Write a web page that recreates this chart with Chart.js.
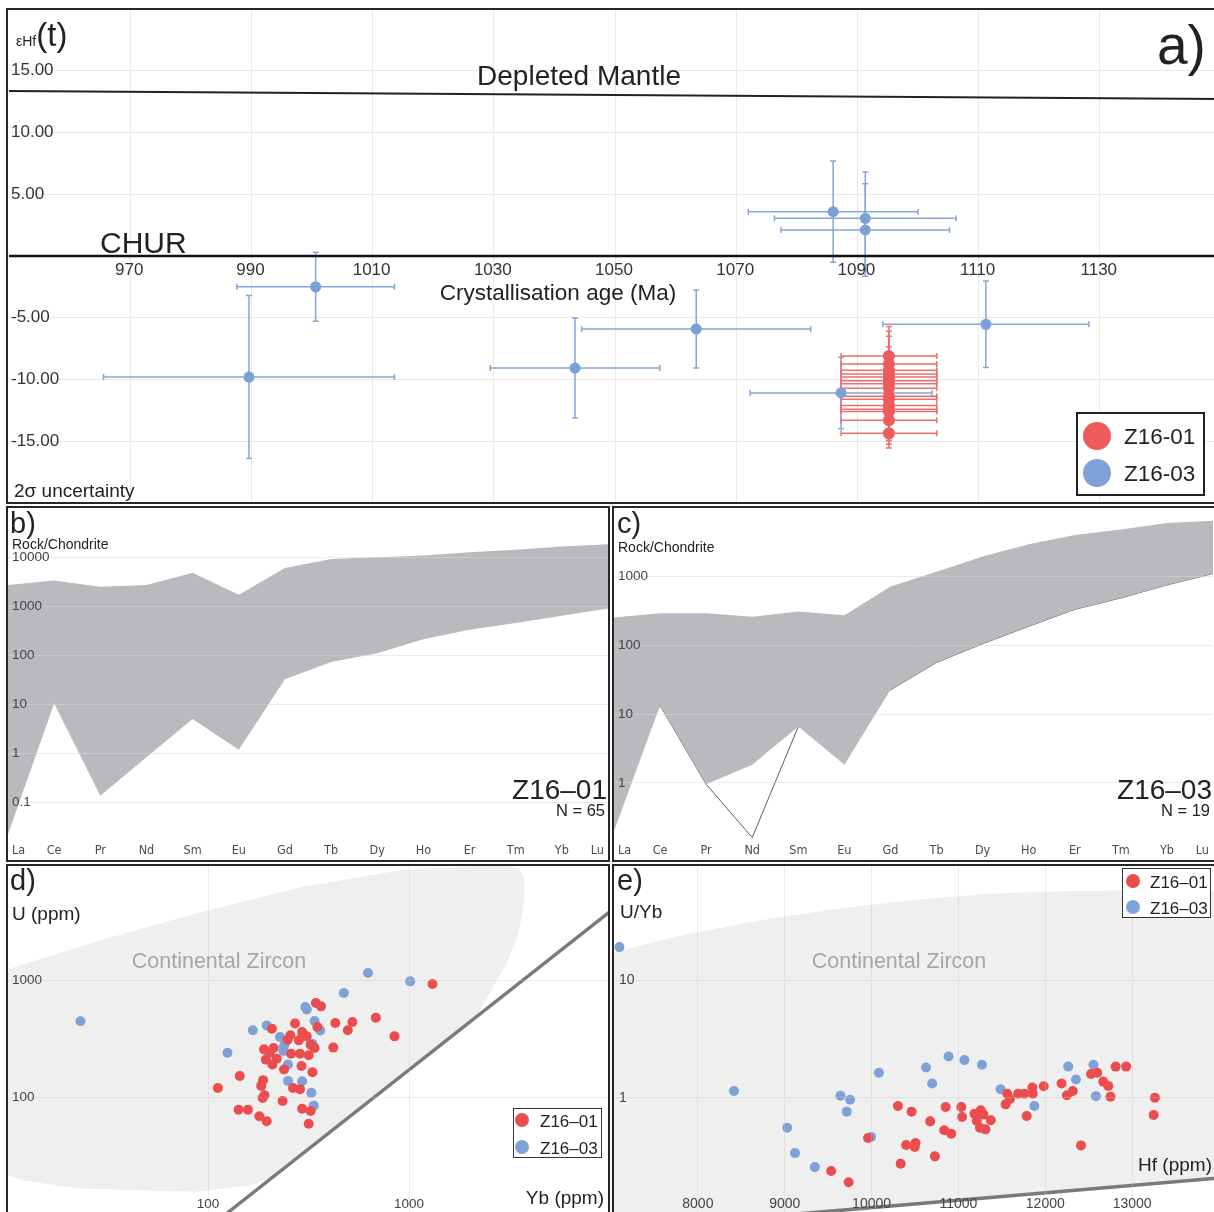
<!DOCTYPE html>
<html>
<head>
<meta charset="utf-8">
<title>Zircon Hf isotopes and trace elements</title>
<script src="https://cdn.jsdelivr.net/npm/chart.js@4.4.1/dist/chart.umd.min.js"></script>
<style>
  html, body { margin: 0; padding: 0; overflow: hidden; background: #fff; }
  body { width: 1214px; height: 1212px; position: relative; font-family: "Liberation Sans", Arial, sans-serif; color: #222; }
  canvas { position: absolute; }
  .box { position: absolute; border: 2px solid #262626; box-sizing: border-box; pointer-events: none; }
  .t  { position: absolute; white-space: nowrap; line-height: 1; transform: translate(0, -50%); }
  .tc { position: absolute; white-space: nowrap; line-height: 1; transform: translate(-50%, -50%); }
  .tr { position: absolute; white-space: nowrap; line-height: 1; transform: translate(-100%, -50%); }
  .dot { position: absolute; border-radius: 50%; }
  .leg { position: absolute; border: 1.5px solid #333; box-sizing: border-box; background: #fff; }
</style>
</head>
<body>

<canvas id="chartA" width="1212" height="494" style="left:9px;top:9px"></canvas>
<canvas id="chartB" width="600" height="350" style="left:8px;top:509px"></canvas>
<canvas id="chartC" width="599" height="350" style="left:614px;top:509px"></canvas>
<canvas id="chartD" width="603" height="352" style="left:7px;top:863px"></canvas>
<canvas id="chartE" width="608" height="352" style="left:611px;top:863px"></canvas>

<!-- panel frames -->
<div class="box" style="left:6px;top:8px;width:1210px;height:496px"></div>
<div class="box" style="left:6px;top:506px;width:604px;height:356px"></div>
<div class="box" style="left:612px;top:506px;width:604px;height:356px"></div>
<div class="box" style="left:6px;top:864px;width:604px;height:360px"></div>
<div class="box" style="left:612px;top:864px;width:604px;height:360px"></div>

<!-- panel a text -->
<div style="position:absolute;left:16px;top:18px;font-size:33px;line-height:33px;white-space:nowrap"><span style="font-size:14px">εHf</span>(t)</div>
<div class="t" style="left:1157px;top:45px;font-size:55px">a)</div>
<div class="tc" style="left:579px;top:76px;font-size:28px">Depleted Mantle</div>
<div class="t" style="left:100px;top:243px;font-size:30px">CHUR</div>
<div class="tc" style="left:558px;top:293px;font-size:22.5px">Crystallisation age (Ma)</div>
<div class="t" style="left:14px;top:490px;font-size:19px">2σ uncertainty</div>
<div class="leg" style="left:1076px;top:412px;width:129px;height:84px;border:2px solid #222"></div>
<div class="dot" style="left:1083px;top:422px;width:28px;height:28px;background:#ee5b5c"></div>
<div class="dot" style="left:1083px;top:459px;width:28px;height:28px;background:#7fa2d6"></div>
<div class="t" style="left:1124px;top:437px;font-size:22.5px">Z16-01</div>
<div class="t" style="left:1124px;top:474px;font-size:22.5px">Z16-03</div>

<!-- panel b / c text -->
<div class="t" style="left:10px;top:523px;font-size:29px">b)</div>
<div class="t" style="left:12px;top:544px;font-size:14px">Rock/Chondrite</div>
<div class="tr" style="left:607px;top:790px;font-size:28px">Z16–01</div>
<div class="tr" style="left:605px;top:810px;font-size:16.5px">N = 65</div>
<div class="t" style="left:617px;top:523px;font-size:29px">c)</div>
<div class="t" style="left:618px;top:547px;font-size:14px">Rock/Chondrite</div>
<div class="tr" style="left:1212px;top:790px;font-size:28px">Z16–03</div>
<div class="tr" style="left:1210px;top:810px;font-size:16.5px">N = 19</div>

<!-- panel d text -->
<div class="t" style="left:10px;top:880px;font-size:29px">d)</div>
<div class="t" style="left:12px;top:913px;font-size:19px">U (ppm)</div>
<div class="tc" style="left:219px;top:962px;font-size:21.5px;color:#a6a6a6">Continental Zircon</div>
<div class="tr" style="left:604px;top:1197px;font-size:19px">Yb (ppm)</div>
<div class="leg" style="left:513px;top:1108px;width:89px;height:50px"></div>
<div class="dot" style="left:515px;top:1113px;width:14px;height:14px;background:#eb4d4f"></div>
<div class="dot" style="left:515px;top:1140px;width:14px;height:14px;background:#7fa2d6"></div>
<div class="t" style="left:540px;top:1121px;font-size:17px">Z16–01</div>
<div class="t" style="left:540px;top:1148px;font-size:17px">Z16–03</div>

<!-- panel e text -->
<div class="t" style="left:617px;top:880px;font-size:29px">e)</div>
<div class="t" style="left:620px;top:911px;font-size:19px">U/Yb</div>
<div class="tc" style="left:899px;top:962px;font-size:21.5px;color:#a6a6a6">Continental Zircon</div>
<div class="tr" style="left:1212px;top:1164px;font-size:19px">Hf (ppm)</div>
<div class="leg" style="left:1122px;top:868px;width:89px;height:50px"></div>
<div class="dot" style="left:1126px;top:874px;width:14px;height:14px;background:#eb4d4f"></div>
<div class="dot" style="left:1126px;top:900px;width:14px;height:14px;background:#7fa2d6"></div>
<div class="t" style="left:1150px;top:882px;font-size:17px">Z16–01</div>
<div class="t" style="left:1150px;top:908px;font-size:17px">Z16–03</div>

<script>
/* ============================================
   DATA - panel a (eHf vs age)
============================================ */
const ageTicks = [970, 990, 1010, 1030, 1050, 1070, 1090, 1110, 1130];
const epsTicks = [-15, -10, -5, 5, 10, 15];

const dmAge = [950, 1150];
const dmEps = [13.36, 12.71];
const churAge = [950, 1150];
const churEps = [0, 0];

const z03Age    = [1000.6, 989.6, 1043.4, 1063.4, 1086.0, 1091.3, 1091.3, 1111.2, 1087.3];
const z03AgeErr = [13, 24, 14, 18.9, 14, 15, 13.9, 17, 15];
const z03Eps    = [-2.49, -9.8, -9.07, -5.91, 3.59, 3.05, 2.11, -5.53, -11.09];
const z03EpsErr = [2.8, 6.6, 4.05, 3.16, 4.1, 3.75, 3.75, 3.5, 2.9];

const z01Age    = [1095.2, 1095.2, 1095.2, 1095.2, 1095.2, 1095.2, 1095.2, 1095.2, 1095.2, 1095.2, 1095.2, 1095.2, 1095.2, 1095.2, 1095.2];
const z01AgeErr = [7.9, 7.9, 7.9, 7.9, 7.9, 7.9, 7.9, 7.9, 7.9, 7.9, 7.9, 7.9, 7.9, 7.9, 7.9];
const z01Eps    = [-8.1, -8.75, -9.25, -9.55, -9.8, -10.1, -10.35, -10.7, -11.35, -11.6, -12.1, -12.4, -12.6, -13.3, -14.35];
const z01EpsErr = [2.4, 2.65, 2.75, 2.2, 2.0, 1.9, 2.1, 2.3, 2.2, 2.0, 2.3, 2.4, 2.35, 1.95, 1.2];

/* ============================================
   DATA - panels b, c (REE patterns)
============================================ */
const ree = ['La', 'Ce', 'Pr', 'Nd', 'Sm', 'Eu', 'Gd', 'Tb', 'Dy', 'Ho', 'Er', 'Tm', 'Yb', 'Lu'];
const z01Max = [2717, 3327, 2477, 2717, 4800, 1718, 6039, 9120, 10000, 10770, 12580, 14200, 16560, 18400];
const z01Min = [0.0223, 10.3, 0.136, 0.83, 5.0, 1.17, 32.4, 72.7, 110, 212, 330, 454, 638, 891];
const z03Max = [255, 294, 294, 261, 311, 275, 721, 1178, 1963, 2977, 4036, 4864, 6060, 6530];
const z03Min = [0.2, 13.4, 0.955, 1.84, 6.6, 1.84, 22.6, 56.5, 106, 190, 335, 491, 760, 1114];
const z03Odd = [0.85, 13.4, 0.955, 0.16, 6.6, 6.3, 22.6, 56.5, 106, 190, 335, 491, 760, 1114];
const reeTicksB = [0.1, 1, 10, 100, 1000, 10000];
const reeTicksC = [1, 10, 100, 1000];

/* ============================================
   DATA - panel d (U vs Yb)
============================================ */
const ybTicks = [100, 1000];
const uTicks = [100, 1000];
const ybD01 = [1309, 344, 365, 684, 430, 523, 271, 350, 496, 208, 847, 294, 310, 257, 249, 283, 324, 339, 212, 190,
               420, 203, 259, 287, 317, 194, 220, 209, 292, 239, 331, 144, 188, 184, 112, 265, 287, 191, 187, 235,
               142, 158, 294, 324, 180, 196, 317];
const uD01  = [930, 641, 600, 481, 433, 441, 428, 400, 375, 387, 333, 363, 333, 340, 312, 308, 283, 265, 265, 258,
               267, 241, 237, 237, 230, 211, 215, 192, 186, 174, 165, 153, 141, 126, 121, 121, 118, 105, 99.4, 93.7,
               79, 79, 80.5, 77, 69.4, 62.9, 60];
const ybD03 = [23.2, 625, 1014, 474, 305, 310, 196, 167, 339, 362, 228, 242, 238, 237, 125, 331, 250, 250, 294, 327, 336];
const uD03  = [448, 1155, 980, 780, 593, 565, 413, 375, 450, 373, 329, 292, 270, 250, 241, 288, 192, 139, 138, 110, 85.5];
const fieldDYb = [9.5, 29.2, 91.6, 288, 906, 1607, 2265, 3020, 3502, 3750, 3750, 3502, 3020, 2483, 2143, 212, 162, 86.8, 22.7, 12.1, 9.5, 9.5];
const fieldDU  = [1203, 2193, 3800, 6206, 8665, 9190, 9375, 9465, 9010, 7413, 4808, 2421, 1343, 745, 483, 21, 17.9, 15.8, 16.8, 19.7, 22.5, 1203];
const lineDYb = [121, 10000];
const lineDU  = [10, 3855];

/* ============================================
   DATA - panel e (U/Yb vs Hf)
============================================ */
const hfTicks = [8000, 9000, 10000, 11000, 12000, 13000];
const uybTicks = [1, 10];
const hfE01  = [9535, 9736, 9960, 10304, 10461, 10335, 10398, 10506, 10497, 10675, 10729, 10836, 10917, 10853, 11033,
                11042, 11185, 11257, 11212, 11288, 11248, 11311, 11373, 11544, 11562, 11593, 11687, 11758, 11852, 11856,
                11786, 11982, 12187, 12249, 12317, 12411, 12527, 12598, 12667, 12725, 12751, 12810, 12931, 13262, 13248];
const uybE01 = [0.237, 0.19, 0.453, 0.849, 0.76, 0.274, 0.395, 0.411, 0.38, 0.628, 0.316, 0.527, 0.493, 0.832, 0.832,
                0.684, 0.731, 0.78, 0.632, 0.717, 0.555, 0.537, 0.641, 0.877, 1.08, 0.975, 1.08, 1.08, 1.22, 1.08,
                0.698, 1.25, 1.32, 1.05, 1.14, 0.392, 1.59, 1.63, 1.37, 1.26, 1.02, 1.84, 1.84, 1.0, 0.711];
const hfE03  = [7097, 8416, 9642, 9753, 9714, 9029, 9119, 9347, 9995, 10085, 10627, 10698, 10886, 11069, 11271, 11485,
                11874, 12264, 12353, 12554, 12582];
const uybE03 = [19.2, 1.14, 1.04, 0.96, 0.76, 0.555, 0.337, 0.256, 0.463, 1.63, 1.81, 1.32, 2.24, 2.09, 1.91, 1.18,
                0.849, 1.84, 1.43, 1.91, 1.03];
const fieldEHf  = [6900, 7821, 8715, 9610, 10506, 11400, 12295, 13190, 14100, 14100, 9000, 6900, 6900];
const fieldEUYb = [16.5, 24.2, 32.5, 40.8, 48.7, 54.9, 57.7, 58.5, 57.6, 0.2095, 0.0998, 0.09, 16.5];
const lineEHf  = [9000, 14100];
const lineEUYb = [0.0998, 0.2095];

/* ============================================
   HELPERS / PLUGINS
============================================ */
const SANS = '"Liberation Sans", Arial, sans-serif';
const COND = '"DejaVu Sans Condensed", "Liberation Sans Narrow", sans-serif';
const RED = '#eb4d4f';
const BLUE = '#7fa2d6';

const pts = (xs, ys) => xs.map((x, i) => ({ x: x, y: ys[i] }));

function fmtTick(v, kind) {
    if (kind === 'fixed2') return v.toFixed(2);
    return String(v);
}

// tick labels drawn inside the plot area, at the scales' own tick positions
const tickText = {
    id: 'tickText',
    afterDraw(chart, args, opts) {
        const ctx = chart.ctx;
        (opts.items || []).forEach(item => {
            const scale = chart.scales[item.axis];
            const n = scale.ticks.length;
            ctx.save();
            ctx.font = item.font;
            ctx.fillStyle = item.color;
            ctx.textBaseline = 'middle';
            scale.ticks.forEach((tick, i) => {
                const p = scale.getPixelForTick(i);
                const text = item.fmt ? fmtTick(tick.value, item.fmt) : tick.label;
                if (scale.isHorizontal()) {
                    let x = p + (item.dx || 0);
                    let align = 'center';
                    if (item.edges && i === 0) { x = p + 4; align = 'left'; }
                    if (item.edges && i === n - 1) { x = p - 4; align = 'right'; }
                    const y = item.yValue !== undefined
                        ? chart.scales.y.getPixelForValue(item.yValue) + item.dy
                        : item.y;
                    ctx.textAlign = align;
                    ctx.fillText(text, x, y);
                } else {
                    ctx.textAlign = 'left';
                    ctx.fillText(text, item.x, p);
                }
            });
            ctx.restore();
        });
    }
};
Chart.register(tickText);

// 2 sigma error bars for panel a
const errorBars = {
    id: 'errorBars',
    beforeDatasetsDraw(chart) {
        const { ctx, chartArea, scales: { x, y } } = chart;
        ctx.save();
        ctx.beginPath();
        ctx.rect(chartArea.left, chartArea.top, chartArea.width, chartArea.height);
        ctx.clip();
        chart.data.datasets.forEach(ds => {
            if (!ds.errX) return;
            ctx.strokeStyle = ds.errColor;
            ctx.lineWidth = 1.5;
            ds.data.forEach((p, i) => {
                const px = x.getPixelForValue(p.x);
                const py = y.getPixelForValue(p.y);
                const x0 = x.getPixelForValue(p.x - ds.errX[i]);
                const x1 = x.getPixelForValue(p.x + ds.errX[i]);
                const y0 = y.getPixelForValue(p.y + ds.errY[i]);
                const y1 = y.getPixelForValue(p.y - ds.errY[i]);
                ctx.beginPath();
                ctx.moveTo(x0, py); ctx.lineTo(x1, py);
                ctx.moveTo(x0, py - 3); ctx.lineTo(x0, py + 3);
                ctx.moveTo(x1, py - 3); ctx.lineTo(x1, py + 3);
                ctx.moveTo(px, y0); ctx.lineTo(px, y1);
                ctx.moveTo(px - 3, y0); ctx.lineTo(px + 3, y0);
                ctx.moveTo(px - 3, y1); ctx.lineTo(px + 3, y1);
                ctx.stroke();
            });
        });
        ctx.restore();
    }
};

function axis(type, min, max, ticks, gridColor, z) {
    return {
        type: type, min: min, max: max,
        afterBuildTicks: s => { s.ticks = ticks.map(v => ({ value: v })); },
        ticks: { display: false },
        grid: { display: !!gridColor, color: gridColor, drawTicks: false, z: z || 0 },
        border: { display: false }
    };
}

function baseOptions(scales, items) {
    return {
        responsive: false,
        animation: false,
        events: [],
        layout: { padding: 0, autoPadding: false },
        plugins: { legend: { display: false }, tooltip: { enabled: false }, tickText: { items: items } },
        scales: scales
    };
}

const hidden = 'rgba(0,0,0,0)';

/* ============================================
   PANEL A
============================================ */
function initPanelA() {
    new Chart(document.getElementById('chartA'), {
        type: 'scatter',
        data: {
            datasets: [
                { type: 'line', data: pts(dmAge, dmEps), borderColor: '#222', borderWidth: 2, pointRadius: 0, order: 4 },
                { type: 'line', data: pts(churAge, churEps), borderColor: '#111', borderWidth: 2.5, pointRadius: 0, order: 3 },
                { data: pts(z03Age, z03Eps), errX: z03AgeErr, errY: z03EpsErr, errColor: '#84a6da',
                  backgroundColor: '#7b9fd7', pointRadius: 5.5, borderWidth: 0, order: 1 },
                { data: pts(z01Age, z01Eps), errX: z01AgeErr, errY: z01EpsErr, errColor: '#f06e6e',
                  backgroundColor: '#ee5b5c', pointRadius: 6, borderWidth: 0, order: 0 }
            ]
        },
        options: baseOptions({
            x: axis('linear', 950, 1150, ageTicks, '#e9e9e9'),
            y: axis('linear', -20, 20, epsTicks, '#e9e9e9')
        }, [
            { axis: 'y', x: 2, font: '17px ' + SANS, color: '#333', fmt: 'fixed2' },
            { axis: 'x', yValue: 0, dy: 14, dx: -1, font: '17px ' + SANS, color: '#333', fmt: 'plain' }
        ]),
        plugins: [errorBars]
    });
}

/* ============================================
   PANELS B, C
============================================ */
function reeChart(id, maxV, minV, odd, yMin, yMax, yTicks) {
    const datasets = [
        { data: maxV, fill: '+1', backgroundColor: '#b9babd', borderColor: hidden, borderWidth: 0, pointRadius: 0, tension: 0 },
        { data: minV, fill: false, borderColor: hidden, borderWidth: 0, pointRadius: 0, tension: 0 }
    ];
    if (odd) {
        datasets.push({ data: odd, fill: false, borderColor: '#5c5c5c', borderWidth: 1, pointRadius: 0, tension: 0 });
    }
    new Chart(document.getElementById(id), {
        type: 'line',
        data: { labels: ree, datasets: datasets },
        options: baseOptions({
            x: { type: 'category', ticks: { display: false }, grid: { display: false }, border: { display: false } },
            y: axis('logarithmic', yMin, yMax, yTicks, 'rgba(215,215,215,0.5)', 1)
        }, [
            { axis: 'y', x: 4, font: '13.5px ' + SANS, color: '#444', fmt: 'plain' },
            { axis: 'x', y: 342, edges: true, font: '12.5px ' + COND, color: '#4a4a4a' }
        ])
    });
}

/* ============================================
   PANELS D, E
============================================ */
function zirconChart(id, xScale, yScale, field, line, red, blue, items) {
    new Chart(document.getElementById(id), {
        type: 'scatter',
        data: {
            datasets: [
                { type: 'line', data: field, fill: 'shape', backgroundColor: '#efeff0', borderColor: hidden,
                  borderWidth: 0, pointRadius: 0, tension: 0, order: 3 },
                { type: 'line', data: line, borderColor: '#7a7a7a', borderWidth: 3.5, pointRadius: 0, order: 2 },
                { data: blue, backgroundColor: BLUE, pointRadius: 5, borderWidth: 0, order: 1 },
                { data: red, backgroundColor: RED, pointRadius: 5, borderWidth: 0, order: 0 }
            ]
        },
        options: baseOptions({ x: xScale, y: yScale }, items)
    });
}

/* ============================================
   INIT
============================================ */
initPanelA();
reeChart('chartB', z01Max, z01Min, null, 0.0101, 96000, reeTicksB);
reeChart('chartC', z03Max, z03Min, z03Odd, 0.102, 9680, reeTicksC);

zirconChart('chartD',
    axis('logarithmic', 10, 10000, ybTicks, 'rgba(200,200,200,0.35)', 1),
    axis('logarithmic', 10, 10000, uTicks, 'rgba(200,200,200,0.35)', 1),
    pts(fieldDYb, fieldDU), pts(lineDYb, lineDU), pts(ybD01, uD01), pts(ybD03, uD03),
    [
        { axis: 'y', x: 5, font: '13.5px ' + SANS, color: '#444', fmt: 'plain' },
        { axis: 'x', y: 341, font: '13.5px ' + SANS, color: '#444', fmt: 'plain' }
    ]);

zirconChart('chartE',
    axis('linear', 7000, 14000, hfTicks, 'rgba(200,200,200,0.35)', 1),
    axis('logarithmic', 0.1, 100, uybTicks, 'rgba(200,200,200,0.35)', 1),
    pts(fieldEHf, fieldEUYb), pts(lineEHf, lineEUYb), pts(hfE01, uybE01), pts(hfE03, uybE03),
    [
        { axis: 'y', x: 8, font: '14px ' + SANS, color: '#444', fmt: 'plain' },
        { axis: 'x', y: 341, font: '14px ' + SANS, color: '#444', fmt: 'plain' }
    ]);
</script>
</body>
</html>
